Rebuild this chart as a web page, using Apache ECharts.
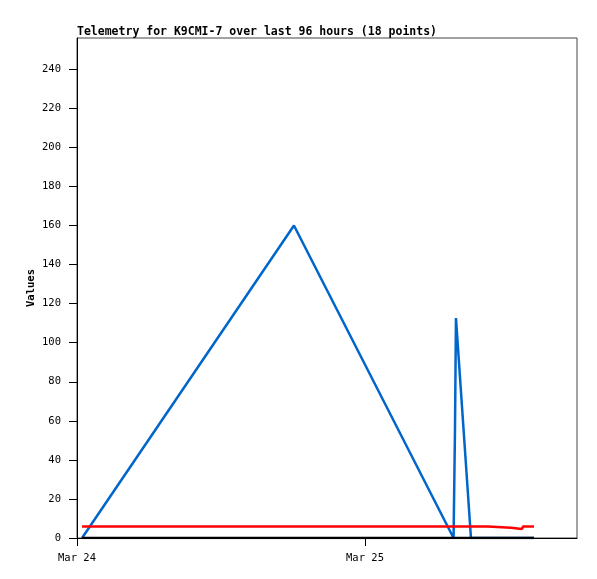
<!DOCTYPE html>
<html>
<head>
<meta charset="utf-8">
<script src="https://cdn.jsdelivr.net/npm/echarts@6/dist/echarts.min.js"></script>
<style>
html,body{margin:0;padding:0;background:#fff;}
#chart{width:597px;height:579px;}
</style>
</head>
<body>
<div id="chart"></div>
<script>
// Hours since Mar 24 00:00
var hours = [0.42, 18.08, 31.38, 31.5, 31.58, 32.83, 34.25, 34.33, 36.17, 36.25, 37.08, 37.17, 38.08];
var blueValues = [0, 160, 0, 56, 112.6, 0, 0, 0, 0, 0, 0, 0, 0];
var redValues = [5.9, 5.9, 5.9, 5.9, 5.9, 5.9, 5.9, 5.2, 5.2, 4.6, 4.6, 5.9, 5.9];
var blackValues = [0, 0, 0, 0, 0, 0, 0, 0, 0, 0, 0, 0, 0];
var xTickHours = [0, 24];
var xTickLabels = ["Mar 24", "Mar 25"];
var yTickValues = [0, 20, 40, 60, 80, 100, 120, 140, 160, 180, 200, 220, 240];
var titleText = "Telemetry for K9CMI-7 over last 96 hours (18 points)";
var yAxisName = "Values";

function pairs(vals) {
  return hours.map(function (h, i) { return [h, vals[i]]; });
}

var mono = "'DejaVu Sans Mono', 'Liberation Mono', monospace";
var chart = echarts.init(document.getElementById('chart'), null, {renderer: 'canvas'});
chart.setOption({
  animation: false,
  backgroundColor: '#fff',
  title: {
    text: titleText,
    left: 72,
    top: 21,
    textStyle: {fontFamily: mono, fontSize: 11.5, fontWeight: 'bold', color: '#000', lineHeight: 12}
  },
  grid: {left: 77, top: 38, width: 500, height: 500, show: true, borderColor: '#444', borderWidth: 1, backgroundColor: 'transparent'},
  xAxis: {
    type: 'value',
    min: 0,
    max: 500 / 12,
    interval: 24,
    splitLine: {show: false},
    axisLine: {show: true, onZero: false, lineStyle: {color: '#000', width: 1}},
    axisTick: {show: true, length: 8, customValues: xTickHours, lineStyle: {color: '#000'}},
    axisLabel: {
      customValues: xTickHours,
      margin: 15,
      fontFamily: mono, fontSize: 10.5, color: '#000',
      formatter: function (v) { var i = xTickHours.indexOf(v); return i >= 0 ? xTickLabels[i] : ''; }
    }
  },
  yAxis: {
    type: 'value',
    min: 0,
    max: 256,
    interval: 20,
    name: yAxisName,
    nameLocation: 'middle',
    nameRotate: 90,
    nameGap: 40,
    nameMoveOverlap: false,
    nameTextStyle: {fontFamily: mono, fontSize: 10.5, fontWeight: 'bold', color: '#000'},
    splitLine: {show: false},
    axisLine: {show: true, lineStyle: {color: '#000', width: 1}},
    axisTick: {show: true, length: 8, customValues: yTickValues, lineStyle: {color: '#000'}},
    axisLabel: {customValues: yTickValues, margin: 16, fontFamily: mono, fontSize: 10.5, color: '#000'}
  },
  series: [
    {type: 'line', data: pairs(blueValues), showSymbol: false, lineStyle: {color: '#0066cc', width: 2.5}, itemStyle: {color: '#0066cc'}},
    {type: 'line', data: pairs(redValues), showSymbol: false, lineStyle: {color: '#ff0000', width: 2.5}, itemStyle: {color: '#ff0000'}},
    {type: 'line', data: pairs(blackValues), showSymbol: false, lineStyle: {color: '#000000', width: 2.5}, itemStyle: {color: '#000'}}
  ]
});
</script>
</body>
</html>
